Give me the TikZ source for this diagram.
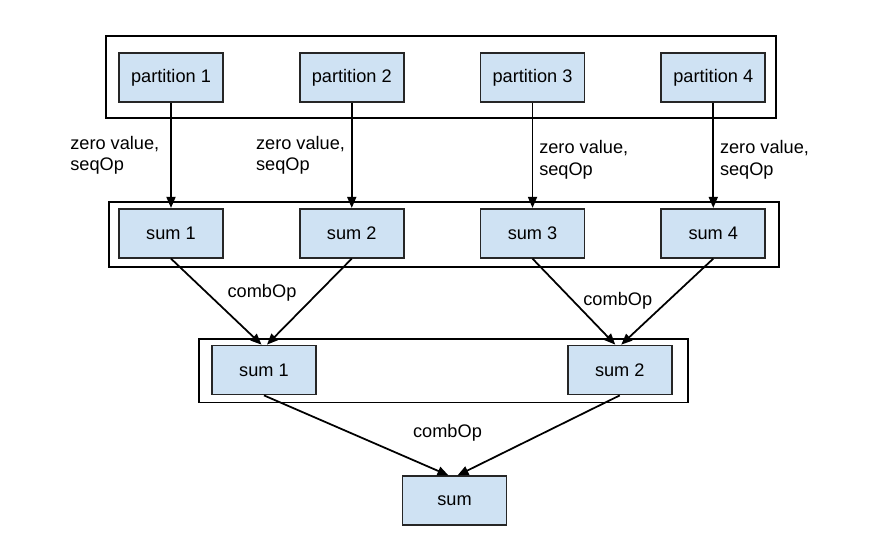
\documentclass[tikz,border=0pt]{standalone}
\usepackage{fontspec}
\setmainfont{Liberation Sans}
\usepackage{tikz}
\usetikzlibrary{arrows.meta, positioning, fit}
\definecolor{boxblue}{HTML}{CFE2F3}

\begin{document}
\begin{tikzpicture}[
        node distance=2.1cm and 1.5cm,
        box/.style={draw=black!85, line width=1pt, fill=boxblue, inner sep=0pt, minimum width=2.08cm, minimum height=0.98cm, font=\fontsize{10.35}{12.4}\selectfont},
        frame/.style={draw, line width=1pt, inner sep=0pt},
        lbl/.style={align=left, font=\fontsize{10.35}{12.4}\selectfont},
        arr/.style={-{Triangle[length=0.22cm, width=0.18cm]}, line width=1pt}
      ]
      \useasboundingbox (0,0) rectangle (17.64,-10.84);
      \node[box] (p1) at (3.42,-1.55) {partition 1};
      \node[box, right=of p1] (p2) {partition 2};
      \node[box, right=of p2] (p3) {partition 3};
      \node[box, right=of p3] (p4) {partition 4};
      \node[box, below=of p1] (s1) {sum 1};
      \node[box, below=of p2] (s2) {sum 2};
      \node[box, below=of p3] (s3) {sum 3};
      \node[box, below=of p4] (s4) {sum 4};
      \node[box, below=1.72cm of s1, xshift=1.86cm] (t1) {sum 1};
      \node[box, right=5cm of t1] (t2) {sum 2};
      \node[box, below=1.6cm of t1, xshift=3.81cm] (total) {sum};
      \node[frame, fit={([shift={(-0.24,0.32)}]p1.north west) ([shift={(0.2,-0.3)}]p4.south east)}] (parts) {};
      \node[frame, fit={([shift={(-0.18,0.12)}]s1.north west) ([shift={(0.26,-0.16)}]s4.south east)}] (sums) {};
      \node[frame, fit={([shift={(-0.24,0.12)}]t1.north west) ([shift={(0.3,-0.14)}]t2.south east)}] (pairs) {};
      \draw[arr] (p1) -- node[lbl, left, xshift=-0.1cm] {zero value,\\seqOp} (s1);
      \draw[arr] (p2) -- node[lbl, left] {zero value,\\seqOp} (s2);
      \draw[arr] (p3) -- node[lbl, right, pos=0.54] {zero value,\\seqOp} (s3);
      \draw[arr] (p4) -- node[lbl, right, pos=0.54] {zero value,\\seqOp} (s4);
      \draw[arr] (s1.south) -- ([xshift=-0.05cm]t1.north);
      \draw[arr] (s2.south) -- ([xshift=0.06cm]t1.north);
      \draw[arr] (s3.south) -- ([xshift=-0.09cm]t2.north);
      \draw[arr] (s4.south) -- ([xshift=0.03cm]t2.north);
      \draw[arr] (t1.south) -- ([xshift=-0.12cm]total.north);
      \draw[arr] (t2.south) -- ([xshift=0.06cm]total.north);
      \node[lbl] (comb1) at ([xshift=-0.04cm, yshift=1.04cm]t1.north) {combOp};
      \node[lbl] (comb2) at ([xshift=-0.04cm, yshift=0.88cm]t2.north) {combOp};
      \node[lbl] (comb3) at ([xshift=-0.14cm, yshift=0.86cm]total.north) {combOp};
    \end{tikzpicture}
\end{document}
